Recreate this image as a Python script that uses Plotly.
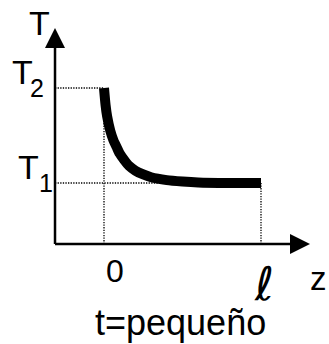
import plotly.graph_objects as go

# Temperature profile T(z) at a small time t
z_vals = [0.0, 0.01, 0.02, 0.04, 0.06, 0.08, 0.10, 0.13, 0.16, 0.20, 0.25, 0.30, 0.40, 0.50, 0.60, 0.80, 1.00]
T_vals = [2.0, 1.82, 1.70, 1.55, 1.45, 1.38, 1.31, 1.24, 1.18, 1.13, 1.09, 1.06, 1.03, 1.015, 1.005, 1.0, 1.0]

T1, T2 = 1.0, 2.0
z0, z_end = 0.0, 1.0

# axis frame in data units
x_min, x_max = -0.6624, 1.4331
y_min, y_max = -0.6947, 2.926
ax_x0 = -0.312      # where the T axis stands
ax_y0 = 0.358       # where the z axis lies
ax_x1 = 1.312       # tip of the z arrow
ax_y1 = 2.63        # tip of the T arrow

FONT = "Liberation Sans, Arial, sans-serif"


def label(x, y, text, size, family=FONT, **kw):
    return dict(x=x, y=y, text=text, showarrow=False, xref="x", yref="y",
                font=dict(size=size, family=family, color="black", **kw),
                xanchor="center", yanchor="middle")


fig = go.Figure()

fig.add_trace(go.Scatter(
    x=z_vals, y=T_vals, mode="lines",
    line=dict(color="black", width=10, shape="spline", smoothing=0.6),
    hoverinfo="skip", showlegend=False,
))

dot = dict(color="black", width=1.3, dash="1.3px,1.3px")
shapes = [
    # guide lines
    dict(type="line", x0=ax_x0, x1=z0, y0=T2, y1=T2, line=dot, layer="below"),
    dict(type="line", x0=ax_x0, x1=z_end, y0=T1, y1=T1, line=dot, layer="below"),
    dict(type="line", x0=z0, x1=z0, y0=ax_y0, y1=T2, line=dot, layer="below"),
    dict(type="line", x0=z_end, x1=z_end, y0=ax_y0, y1=T1, line=dot, layer="below"),
    # axes
    dict(type="line", x0=ax_x0, x1=ax_x1 - 0.05, y0=ax_y0, y1=ax_y0,
         line=dict(color="black", width=2.5)),
    dict(type="line", x0=ax_x0, x1=ax_x0, y0=ax_y0, y1=ax_y1 - 0.08,
         line=dict(color="black", width=2.5)),
]

annotations = [
    # arrow heads
    dict(x=ax_x1, y=ax_y0, ax=ax_x1 - 0.1, ay=ax_y0, xref="x", yref="y", axref="x", ayref="y",
         text="", showarrow=True, arrowhead=2, arrowsize=1.6, arrowwidth=2.5, arrowcolor="black"),
    dict(x=ax_x0, y=ax_y1, ax=ax_x0, ay=ax_y1 - 0.15, xref="x", yref="y", axref="x", ayref="y",
         text="", showarrow=True, arrowhead=2, arrowsize=1.6, arrowwidth=2.5, arrowcolor="black"),
    # axis names and levels
    label(-0.408, 2.68, "T", 34),
    label(-0.522, 2.17, "T", 34),
    label(-0.424, 2.00, "2", 25),
    label(-0.478, 1.17, "T", 34),
    label(-0.369, 1.00, "1", 25),
    label(0.070, 0.07, "0", 32),
    label(1.019, -0.06, "ℓ", 46, family="DejaVu Sans ExtraLight, DejaVu Sans, sans-serif",
          style="italic", weight=200),
    label(1.369, -0.01, "z", 33),
    label(0.49, -0.47, "t=pequeño", 36),
]

fig.update_layout(
    width=329, height=344,
    margin=dict(l=0, r=0, t=0, b=0),
    paper_bgcolor="white", plot_bgcolor="white",
    xaxis=dict(range=[x_min, x_max], visible=False, fixedrange=True),
    yaxis=dict(range=[y_min, y_max], visible=False, fixedrange=True),
    shapes=shapes, annotations=annotations, showlegend=False,
)

fig.write_html("out.html")
